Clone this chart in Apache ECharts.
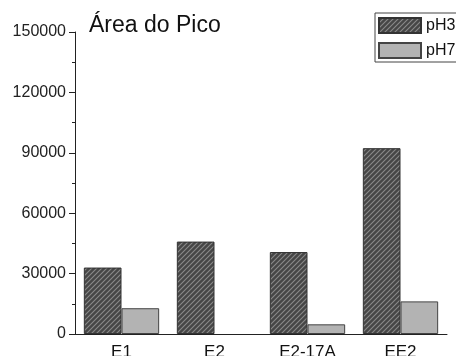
<!DOCTYPE html>
<html>
<head>
<meta charset="utf-8">
<script src="https://cdn.jsdelivr.net/npm/echarts@6/dist/echarts.min.js"></script>
<style>
  html, body { margin: 0; padding: 0; background: #fff; }
  #chart { width: 456px; height: 356px; }
</style>
</head>
<body>
<div id="chart"></div>
<script>
const categories = ['E1', 'E2', 'E2-17A', 'EE2'];
const ph3Values = [33000, 45900, 40700, 92300];
const ph7Values = [12800, 0, 4800, 16200];
const seriesNames = ['pH3', 'pH7'];

// diagonal hatch for the pH3 bars
function makeHatch() {
  const c = document.createElement('canvas');
  c.width = 5; c.height = 5;
  const ctx = c.getContext('2d');
  ctx.fillStyle = '#464646';
  ctx.fillRect(0, 0, 5, 5);
  ctx.strokeStyle = '#8a8a8a';
  ctx.lineWidth = 1.1;
  ctx.beginPath();
  ctx.moveTo(-1, 6); ctx.lineTo(6, -1);
  ctx.moveTo(-1, 1); ctx.lineTo(1, -1);
  ctx.moveTo(4, 6); ctx.lineTo(6, 4);
  ctx.stroke();
  return c;
}

const chart = echarts.init(document.getElementById('chart'));
const font = 'Liberation Sans, Arial, sans-serif';

chart.setOption({
  animation: false,
  textStyle: { fontFamily: font },
  title: {
    text: 'Área do Pico',
    left: 84, top: 9,
    textStyle: { fontSize: 23, fontWeight: 'normal', color: '#111', fontFamily: font }
  },
  legend: {
    orient: 'vertical',
    left: 375, top: 13,
    padding: [4, 40, 3, 3],
    icon: 'rect',
    itemWidth: 42, itemHeight: 15,
    itemGap: 8,
    borderColor: '#444', borderWidth: 1,
    textStyle: { fontSize: 16, color: '#111' },
    data: seriesNames
  },
  grid: { left: 75, right: 9, top: 32, bottom: 22, outerBoundsMode: 'none' },
  xAxis: [
    {
      type: 'category',
      data: categories,
      axisLine: { lineStyle: { color: '#222', width: 1 } },
      axisTick: { alignWithLabel: true, length: 5, lineStyle: { color: '#222' } },
      axisLabel: { fontSize: 17, color: '#111', margin: 10 }
    },
    {
      type: 'category',
      data: categories,
      position: 'bottom',
      axisLine: { show: false },
      axisTick: { inside: true, length: 3, lineStyle: { color: '#222' } },
      axisLabel: { show: false }
    }
  ],
  yAxis: {
    type: 'value',
    min: 0, max: 150000, interval: 30000,
    axisLine: { show: true, lineStyle: { color: '#222', width: 1 } },
    axisTick: { show: true, length: 6, lineStyle: { color: '#222' } },
    minorTick: { show: true, splitNumber: 2, length: 3, lineStyle: { color: '#222' } },
    splitLine: { show: false },
    axisLabel: { fontSize: 16, color: '#222', margin: 9, formatter: (v) => String(v) }
  },
  series: [
    {
      name: seriesNames[0],
      type: 'bar',
      data: ph3Values,
      barGap: '0%',
      barCategoryGap: '19%',
      itemStyle: {
        color: { image: makeHatch(), repeat: 'repeat' },
        borderColor: '#333', borderWidth: 1
      }
    },
    {
      name: seriesNames[1],
      type: 'bar',
      // a zero bar is not drawn in the original
      data: ph7Values.map((v) => (v === 0 ? '-' : v)),
      itemStyle: { color: '#b3b3b3', borderColor: '#444', borderWidth: 1 }
    }
  ]
});
</script>
</body>
</html>
